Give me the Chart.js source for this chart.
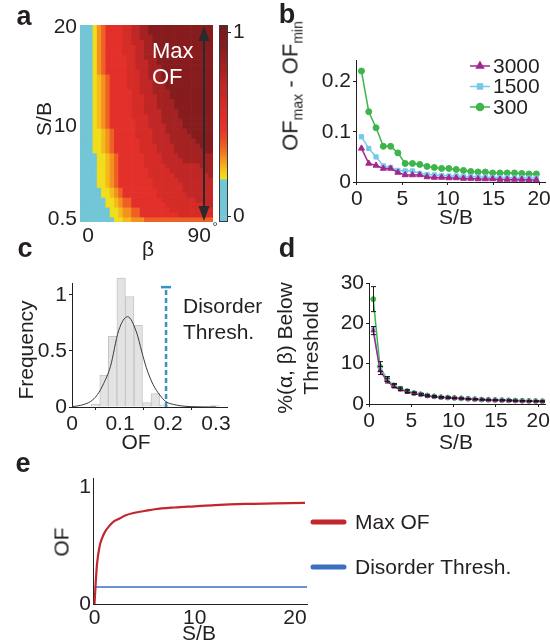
<!DOCTYPE html>
<html>
<head>
<meta charset="utf-8">
<script src="https://cdn.jsdelivr.net/npm/chart.js@4.4.0/dist/chart.umd.min.js"></script>
<style>
  body { margin: 0; width: 550px; height: 640px; position: relative; overflow: hidden; background: #fff;
         font-family: 'Liberation Sans', Arial, sans-serif; color: #231f20; }
  canvas { position: absolute; }
  .t { position: absolute; white-space: nowrap; line-height: 1; }
  .t sub { font-size: 14px; vertical-align: -5px; }
</style>
</head>
<body>
<script>
// ---- panel a: heatmap of OF over beta (columns) and S/B (rows) ----
const betaVals = [0,3,6,9,12,15,18,21,24,27,30,33,36,39,42,45,48,51,54,57,60,63,66,69,72,75,78,81,84,87,90];
const sbRows = [20,19.5,19,18.5,18,17.5,17,16.5,16,15.5,15,14.5,14,13.5,13,12.5,12,11.5,11,10.5,10,
                9.5,9,8.5,8,7.5,7,6.5,6,5.5,5,4.5,4,3.5,3,2.5,2,1.5,1,0.5];
// OF level per cell, run-length per row ("level:count"), 0 = below disorder threshold
const ofRuns = [
  "0:3 1 3 4 5:4 6:2 7:2 8:2 9:15",
  "0:3 1 3 4 5:4 6:2 7:2 8:2 9:15",
  "0:3 1 3 4 5:4 6:2 7:2 8:3 9:14",
  "0:3 1 3 4 5:4 6:2 7:3 8:2 9:14",
  "0:3 1 3 4 5:4 6:3 7:2 8:2 9:14",
  "0:3 1 3 4 5:4 6:3 7:2 8:3 9:13",
  "0:3 1 3 4 5:5 6:2 7:2 8:3 9:13",
  "0:3 1 3 4 5:5 6:2 7:3 8:2 9:13",
  "0:3 1 3 4 5:5 6:2 7:3 8:3 9:12",
  "0:3 1 3 4 5:5 6:3 7:2 8:3 9:12",
  "0:3 1 2 3 4 5:4 6:3 7:2 8:3 9:12",
  "0:3 1 2 3 4 5:4 6:3 7:3 8:3 9:11",
  "0:3 1 2 3 4 5:4 6:3 7:3 8:3 9:11",
  "0:3 1 2 3 4 5:5 6:2 7:3 8:4 9:10",
  "0:3 1 2 3 4 5:5 6:3 7:3 8:3 9:10",
  "0:3 1 2 3 4 5:5 6:3 7:3 8:4 9:9",
  "0:3 1 2 3 4 5:5 6:3 7:3 8:4 9:9",
  "0:3 1 2 3 4 5:5 6:3 7:4 8:4 9:8",
  "0:3 1 2 3 4 5:5 6:4 7:3 8:4 9:8",
  "0:3 1 2 3 4 5:6 6:3 7:3 8:5 9:7",
  "0:3 1 2 3 4 5:6 6:3 7:4 8:4 9:7",
  "0:3 1:2 2 3 4 5:5 6:4 7:3 8:5 9:6",
  "0:3 1:2 2 3 4 5:5 6:4 7:4 8:5 9:5",
  "0:3 1:2 2 3 4 5:6 6:3 7:4 8:6 9:4",
  "0:3 1:2 2 3 4 5:6 6:4 7:4 8:6 9:3",
  "0:3 1:2 2 3 4 5:6 6:4 7:4 8:7 9:2",
  "0:4 1:2 2 3 4 5:6 6:4 7:4 8:8",
  "0:4 1:2 2 3 4 5:6 6:4 7:5 8:7",
  "0:4 1:2 2 3 4 5:6 6:5 7:8 8:3",
  "0:4 1:2 2 3 4 5:7 6:5 7:8 8:2",
  "0:4 1:2 2 3 4 5:7 6:6 7:8 8:1",
  "0:4 1:2 2 3 4 5:8 6:6 7:8",
  "0:4 1:2 2 3 4 5:8 6:7 7:7",
  "0:5 1:2 2 3 4 5:8 6:6 7:7",
  "0:5 1:2 2 3 4 5:8 6:7 7:6",
  "0:6 1:2 2 3 4:2 5:7 6:8 7:4",
  "0:6 1:2 2 3 4:2 5:8 6:9 7:2",
  "0:7 1:2 2 3:2 4:2 5:7 6:10",
  "0:7 1:2 2 3:2 4:2 5:9 6:8",
  "0:8 1:2 2:2 3:3 4:16"
];
const ofLevelValue = [0.1, 0.21, 0.26, 0.31, 0.38, 0.5, 0.6, 0.7, 0.8, 0.92];

// ---- panel b: OFmax - OFmin vs S/B ----
const sbB = [0.5,1.3,2.1,2.9,3.7,4.5,5.3,6.1,6.9,7.7,8.5,9.3,10.1,10.9,11.7,12.5,13.3,14.1,14.9,15.7,16.5,17.3,18.1,18.9,19.7];
const rangeN3000 = [0.067,0.037,0.033,0.027,0.027,0.019,0.014,0.014,0.014,0.010,0.009,0.009,0.008,0.008,0.007,0.007,0.006,0.006,0.006,0.005,0.005,0.005,0.005,0.004,0.004];
const rangeN1500 = [0.090,0.067,0.050,0.032,0.029,0.023,0.022,0.022,0.017,0.015,0.014,0.013,0.012,0.012,0.011,0.011,0.010,0.010,0.009,0.009,0.009,0.008,0.008,0.008,0.008];
const rangeN300  = [0.221,0.140,0.108,0.071,0.071,0.058,0.037,0.037,0.035,0.031,0.029,0.027,0.027,0.025,0.023,0.021,0.020,0.020,0.018,0.018,0.018,0.018,0.017,0.016,0.016];
const seriesNames = ['3000', '1500', '300'];

// ---- panel c: histogram of OF ----
const binCenters = [0.049,0.0668,0.0846,0.1024,0.1202,0.138,0.1558,0.1736,0.1914,0.2982];
const binFreq    = [0.025,0.285,0.63,1.15,0.985,0.73,0.04,0.12,0.02,0.012];
const fitX = [0,0.018,0.039,0.053,0.066,0.08,0.097,0.116,0.135,0.145,0.155,0.169,0.183,0.195,0.217,0.25,0.3];
const fitY = [0.003,0.015,0.05,0.11,0.21,0.36,0.68,0.806,0.66,0.5,0.35,0.2,0.107,0.05,0.018,0.003,0];
const disorderThresh = 0.196;

// ---- panel d: % of (alpha, beta) below threshold ----
const sbD = [0.5,1.3,2.1,2.9,3.7,4.5,5.3,6.1,6.9,7.7,8.5,9.3,10.1,10.9,11.7,12.5,13.3,14.1,14.9,15.7,16.5,17.3,18.1,18.9,19.7,20.5];
const belowN3000 = [18.2,8.3,5.8,4.4,3.6,3.0,2.6,2.3,2.0,1.8,1.65,1.55,1.45,1.35,1.25,1.15,1.08,1.0,0.95,0.9,0.85,0.8,0.76,0.72,0.68,0.65];
const belowN1500 = [18.8,8.8,6.0,4.5,3.7,3.1,2.7,2.4,2.1,1.9,1.7,1.6,1.5,1.4,1.3,1.2,1.1,1.05,1.0,0.95,0.9,0.85,0.8,0.75,0.72,0.7];
const belowN300  = [26.0,9.3,6.2,4.6,3.8,3.2,2.7,2.4,2.1,1.9,1.7,1.6,1.5,1.4,1.3,1.2,1.1,1.05,1.0,0.95,0.9,0.85,0.8,0.75,0.72,0.7];
const errN3000 = [1.0,1.0,0.6,0.4,0.3,0.3,0.25,0.2,0.2,0.15,0.15,0.15,0.1,0.1,0.1,0.1,0.1,0.1,0.1,0.1,0.1,0.1,0.1,0.1,0.1,0.1];
const errN300  = [3.1,1.2,0.6,0.5,0.4,0.35,0.3,0.25,0.2,0.2,0.15,0.15,0.15,0.1,0.1,0.1,0.1,0.1,0.1,0.1,0.1,0.1,0.1,0.1,0.1,0.1];

// ---- panel e: max OF vs S/B ----
const sbE = [0,0.1,0.25,0.5,0.75,1,1.5,2,2.5,3,4,5,6,8,10,12,15,18,21];
const maxOF = [0,0.15,0.34,0.49,0.56,0.61,0.67,0.71,0.73,0.755,0.78,0.795,0.81,0.825,0.835,0.845,0.855,0.86,0.865];
const threshE = 0.145;

// ---------------------------------------------------------------------
const AX = '#231f20';
const MAG = '#a3278f', CYA = '#74c9ea', GRN = '#3db54a';
Chart.defaults.font.family = "'Liberation Sans', Arial, sans-serif";
Chart.defaults.font.size = 21;
Chart.defaults.color = AX;
Chart.defaults.animation = false;
Chart.defaults.responsive = false;
Chart.defaults.devicePixelRatio = 1;
Chart.defaults.plugins.legend.display = false;
Chart.defaults.plugins.tooltip.enabled = false;

// colormap used by the heatmap and its colorbar
const cmapStops = [[0,'#72c6d6'],[0.199,'#72c6d6'],[0.2,'#efe41d'],[0.25,'#f6c21a'],[0.3,'#f59a1f'],
  [0.37,'#ef6523'],[0.45,'#e63b26'],[0.5,'#e3302a'],[0.6,'#d52c27'],[0.7,'#c02726'],[0.8,'#a52222'],
  [0.92,'#871c1e'],[1.01,'#7a1a1c']];
function hex(c) { return [1,3,5].map(i => parseInt(c.substr(i,2),16)); }
function cmap(v) {
  for (let i = 1; i < cmapStops.length; i++) {
    if (v <= cmapStops[i][0]) {
      const [v0,c0] = cmapStops[i-1], [v1,c1] = cmapStops[i];
      const t = Math.max(0, Math.min(1, (v - v0) / (v1 - v0)));
      const a = hex(c0), b = hex(c1);
      return 'rgb(' + a.map((x,k) => Math.round(x + (b[k]-x)*t)).join(',') + ')';
    }
  }
  return cmapStops[cmapStops.length-1][1];
}
function decodeRuns(s) {
  const out = [];
  s.split(' ').forEach(tok => {
    const [lvl, n] = tok.split(':');
    for (let k = 0; k < (n ? +n : 1); k++) out.push(+lvl);
  });
  return out;
}
const ofGrid = ofRuns.map(decodeRuns);

function makeCanvas(left, top, w, h) {
  const c = document.createElement('canvas');
  c.width = w; c.height = h;
  c.style.left = left + 'px'; c.style.top = top + 'px';
  c.style.width = w + 'px'; c.style.height = h + 'px';
  document.body.appendChild(c);
  return c.getContext('2d');
}
function label(html, x, y, size, opts = {}) {
  const d = document.createElement('div');
  d.className = 't';
  d.innerHTML = html;
  d.style.left = x + 'px'; d.style.top = y + 'px';
  d.style.fontSize = size + 'px';
  if (opts.bold) d.style.fontWeight = 'bold';
  if (opts.color) d.style.color = opts.color;
  if (opts.center) { d.style.textAlign = 'center'; d.style.lineHeight = '1.25'; }
  const anchor = opts.left ? 'translate(0,-50%)' : 'translate(-50%,-50%)';
  d.style.transform = anchor + (opts.rot ? ' rotate(-90deg)' : '');
  document.body.appendChild(d);
}
const fixW = w => s => { s.width = w; s.paddingTop = 0; s.paddingBottom = 0; };
const fixH = h => s => { s.height = h; s.paddingLeft = 0; s.paddingRight = 0; };
const setTicks = vals => s => { s.ticks = vals.map(v => ({ value: v })); };

function axis(min, max, ticks, fit, tickLen) {
  return {
    type: 'linear', min: min, max: max, offset: false,
    afterBuildTicks: setTicks(ticks), afterFit: fit,
    grid: { display: true, drawOnChartArea: false, drawTicks: tickLen > 0, tickLength: tickLen, color: AX },
    border: { display: true, color: AX, width: 1 },
    ticks: { padding: 2, maxRotation: 0, autoSkip: false, callback: v => String(v) }
  };
}

// ---------------- panel a: heatmap ----------------
const heatDatasets = sbRows.map((sb, r) => ({
  data: betaVals.map(b => ({ x: b, y: [sb - 0.25, sb + 0.25] })),
  backgroundColor: betaVals.map((b, c) => cmap(ofLevelValue[ofGrid[r][c]])),
  borderWidth: 0, grouped: false, barPercentage: 1, categoryPercentage: 1
}));
const arrowPlugin = {
  id: 'maxArrow',
  afterDatasetsDraw(chart) {
    const { ctx, scales: { x, y } } = chart;
    const px = x.getPixelForValue(85.2), top = y.getPixelForValue(20.15), bot = y.getPixelForValue(0.35);
    ctx.save();
    ctx.strokeStyle = '#2a2a2a'; ctx.fillStyle = '#2a2a2a'; ctx.lineWidth = 2;
    ctx.beginPath(); ctx.moveTo(px, top + 8); ctx.lineTo(px, bot - 8); ctx.stroke();
    ctx.beginPath(); ctx.moveTo(px, top); ctx.lineTo(px - 5.5, top + 15); ctx.lineTo(px + 5.5, top + 15); ctx.closePath(); ctx.fill();
    ctx.beginPath(); ctx.moveTo(px, bot); ctx.lineTo(px - 5.5, bot - 15); ctx.lineTo(px + 5.5, bot - 15); ctx.closePath(); ctx.fill();
    ctx.restore();
  }
};
new Chart(makeCanvas(0, 0, 240, 260), {
  type: 'bar',
  data: { datasets: heatDatasets },
  options: {
    layout: { padding: { top: 25, right: 27, left: 0, bottom: 0 } },
    scales: {
      x: { type: 'linear', min: -1.5, max: 91.5, offset: false,
           afterBuildTicks: setTicks([0, 90]), afterFit: fixH(38),
           grid: { display: false, drawTicks: false }, border: { display: false },
           ticks: { padding: 2, align: 'inner', maxRotation: 0, autoSkip: false, callback: v => String(v) } },
      y: { type: 'linear', min: 0.25, max: 20.25,
           afterBuildTicks: setTicks([0.5, 10, 20]), afterFit: fixW(80),
           grid: { display: false, drawTicks: false }, border: { display: false },
           ticks: { padding: 3, autoSkip: false, callback: v => String(v) } }
    }
  },
  plugins: [arrowPlugin]
});

// colorbar
const cbMin = -0.03, cbMax = 1.04;
const cbDatasets = [];
for (let v = cbMin; v < cbMax; v += 0.01) {
  cbDatasets.push({ data: [[v, v + 0.0101]], backgroundColor: cmap(v + 0.005), borderWidth: 0,
                    grouped: false, barPercentage: 1, categoryPercentage: 1 });
}
const outlinePlugin = {
  id: 'outline',
  afterDatasetsDraw(chart) {
    const { ctx, chartArea: a } = chart;
    ctx.save(); ctx.strokeStyle = '#3a3a3a'; ctx.lineWidth = 1;
    ctx.strokeRect(a.left + 0.5, a.top + 0.5, a.right - a.left - 1, a.bottom - a.top - 1);
    ctx.restore();
  }
};
new Chart(makeCanvas(205, 0, 50, 260), {
  type: 'bar',
  data: { labels: ['OF'], datasets: cbDatasets },
  options: {
    layout: { padding: { left: 14, top: 25, bottom: 38, right: 0 } },
    scales: {
      x: { display: false },
      y: { position: 'right', min: cbMin, max: cbMax, afterBuildTicks: setTicks([0, 1]), afterFit: fixW(27),
           grid: { display: true, drawOnChartArea: false, tickLength: 3, color: AX }, border: { display: false },
           ticks: { padding: 2, autoSkip: false, callback: v => String(v) } }
    }
  },
  plugins: [outlinePlugin]
});

// ---------------- panel b ----------------
function seriesStyle(color, style, r) {
  return { borderColor: color, backgroundColor: color, pointBackgroundColor: color, pointBorderColor: color,
           pointStyle: style, pointRadius: r, pointBorderWidth: 1, borderWidth: 1.5, tension: 0 };
}
const legendB = {
  id: 'legendB',
  afterDraw(chart) {
    const ctx = chart.ctx;
    ctx.save();
    chart.data.datasets.forEach((ds, i) => {
      const y = 26 + i * 20.5;
      ctx.strokeStyle = ds.borderColor; ctx.fillStyle = ds.backgroundColor; ctx.lineWidth = 1.5;
      ctx.beginPath(); ctx.moveTo(195, y); ctx.lineTo(215, y); ctx.stroke();
      Chart.helpers.drawPoint(ctx, { pointStyle: ds.pointStyle, radius: ds.pointRadius + 0.5, borderWidth: 1, rotation: 0 }, 205, y);
      ctx.fillStyle = AX; ctx.font = "21px 'Liberation Sans', Arial, sans-serif"; ctx.textBaseline = 'middle';
      ctx.fillText(ds.label, 218, y + 1);
    });
    ctx.restore();
  }
};
new Chart(makeCanvas(275, 40, 275, 180), {
  type: 'line',
  data: { datasets: [
    Object.assign({ label: seriesNames[0], data: sbB.map((x, i) => ({ x, y: rangeN3000[i] })) }, seriesStyle(MAG, 'triangle', 3.5)),
    Object.assign({ label: seriesNames[1], data: sbB.map((x, i) => ({ x, y: rangeN1500[i] })) }, seriesStyle(CYA, 'rect', 3)),
    Object.assign({ label: seriesNames[2], data: sbB.map((x, i) => ({ x, y: rangeN300[i] })) }, seriesStyle(GRN, 'circle', 3))
  ] },
  options: {
    layout: { padding: { top: 20, right: 4, left: 0, bottom: 0 } },
    scales: {
      x: axis(-0.1, 20.65, [0, 5, 10, 15, 20], fixH(38), 3),
      y: axis(0, 0.243, [0, 0.1, 0.2], fixW(81), 3)
    }
  },
  plugins: [legendB]
});

// ---------------- panel c ----------------
new Chart(makeCanvas(0, 270, 250, 175), {
  type: 'bar',
  data: { datasets: [
    { type: 'line', data: fitX.map((x, i) => ({ x, y: fitY[i] })), borderColor: '#3a3a3a', borderWidth: 1,
      pointRadius: 0, cubicInterpolationMode: 'monotone', clip: false },
    { type: 'line', data: [{ x: disorderThresh, y: 0 }, { x: disorderThresh, y: 1.07 }],
      borderColor: '#3593c2', borderWidth: 2.5, borderDash: [5, 3], pointStyle: 'line',
      pointRadius: [0, 5], pointBorderWidth: 2.5, pointBorderColor: '#3593c2', clip: false },
    { type: 'bar', data: binCenters.map((x, i) => ({ x, y: binFreq[i] })), backgroundColor: '#e3e3e3',
      borderColor: '#c6c6c6', borderWidth: 1, barPercentage: 1, categoryPercentage: 1, clip: false }
  ] },
  options: {
    layout: { padding: { top: 13, right: 23, left: 0, bottom: 0 } },
    scales: {
      x: axis(0, 0.323, [0, 0.1, 0.2, 0.3], fixH(38), 3),
      y: axis(0, 1.107, [0, 0.5, 1], fixW(72), 3)
    }
  }
});

// ---------------- panel d ----------------
const errorBars = {
  id: 'errorBars',
  afterDatasetsDraw(chart) {
    const { ctx, scales: { x, y } } = chart;
    ctx.save(); ctx.strokeStyle = '#1a1a1a'; ctx.lineWidth = 1;
    [[belowN300, errN300], [belowN3000, errN3000]].forEach(([vals, errs]) => {
      sbD.forEach((s, i) => {
        const px = Math.round(x.getPixelForValue(s)) + 0.5;
        const y0 = y.getPixelForValue(vals[i] - errs[i]), y1 = y.getPixelForValue(vals[i] + errs[i]);
        ctx.beginPath();
        ctx.moveTo(px, y0); ctx.lineTo(px, y1);
        ctx.moveTo(px - 2.5, y0); ctx.lineTo(px + 2.5, y0);
        ctx.moveTo(px - 2.5, y1); ctx.lineTo(px + 2.5, y1);
        ctx.stroke();
      });
    });
    ctx.restore();
  }
};
new Chart(makeCanvas(275, 270, 275, 175), {
  type: 'line',
  data: { datasets: [
    Object.assign({ data: sbD.map((x, i) => ({ x, y: belowN3000[i] })) }, seriesStyle(MAG, 'triangle', 2.5)),
    Object.assign({ data: sbD.map((x, i) => ({ x, y: belowN1500[i] })) }, seriesStyle(CYA, 'rect', 2.2)),
    Object.assign({ data: sbD.map((x, i) => ({ x, y: belowN300[i] })) }, seriesStyle(GRN, 'circle', 2.5))
  ] },
  options: {
    layout: { padding: { top: 13, right: 0, left: 0, bottom: 0 } },
    scales: {
      x: axis(0, 20.8, [0, 5, 10, 15, 20], fixH(41), 3),
      y: axis(0, 30, [0, 10, 20, 30], fixW(94), 3)
    }
  },
  plugins: [errorBars]
});

// ---------------- panel e ----------------
const legendE = {
  id: 'legendE',
  afterDraw(chart) {
    const ctx = chart.ctx;
    ctx.save();
    const items = [['Max OF', '#c1272d', 57], ['Disorder Thresh.', '#3b6fc0', 102]];
    items.forEach(([txt, col, y]) => {
      ctx.strokeStyle = col; ctx.lineWidth = 5; ctx.lineCap = 'round';
      ctx.beginPath(); ctx.moveTo(313, y); ctx.lineTo(344, y); ctx.stroke();
      ctx.fillStyle = AX; ctx.font = "21px 'Liberation Sans', Arial, sans-serif"; ctx.textBaseline = 'middle';
      ctx.fillText(txt, 355, y + 1);
    });
    ctx.restore();
  }
};
new Chart(makeCanvas(0, 465, 550, 175), {
  type: 'line',
  data: { datasets: [
    { data: sbE.map((x, i) => ({ x, y: maxOF[i] })), borderColor: '#c1272d', borderWidth: 2.2,
      pointRadius: 0, cubicInterpolationMode: 'monotone', clip: false },
    { data: [{ x: 0, y: threshE }, { x: 21.2, y: threshE }], borderColor: '#3b6fc0', borderWidth: 1.6, pointRadius: 0 }
  ] },
  options: {
    layout: { padding: { top: 13, right: 243, left: 0, bottom: 0 } },
    scales: {
      x: axis(-0.15, 21.2, [0, 10, 20], fixH(36), 0),
      y: axis(0, 1.077, [0, 1], fixW(93), 0)
    }
  },
  plugins: [legendE]
});

// ---------------- text ----------------
label('a', 24, 16, 27, { bold: true });
label('b', 287, 14, 27, { bold: true });
label('c', 25, 248, 27, { bold: true });
label('d', 287, 248, 27, { bold: true });
label('e', 23, 463, 27, { bold: true });

label('S/B', 43, 119, 21, { rot: true });
label('&beta;', 148, 248, 21);
label('&deg;', 215, 226, 13);
label('Max', 152, 51, 22, { left: true, color: '#ffffff' });
label('OF', 152, 77, 22, { left: true, color: '#ffffff' });

label('OF<sub>max</sub> - OF<sub>min</sub>', 292, 86, 22, { rot: true });
label('S/B', 456, 216, 21);

label('Frequency', 25, 350, 21, { rot: true });
label('Disorder', 183, 305, 21, { left: true });
label('Thresh.', 183, 331, 21, { left: true });
label('OF', 136, 441, 21);

label('%(&alpha;, &beta;) Below<br>Threshold', 298, 348, 21, { rot: true, center: true });
label('S/B', 456, 441, 21);

label('OF', 61, 542, 21, { rot: true });
label('S/B', 199, 632, 21);
</script>
</body>
</html>
